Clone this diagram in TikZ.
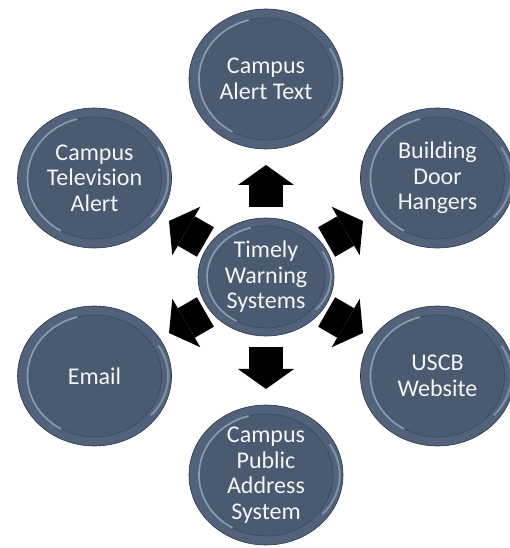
\documentclass[tikz,border=0pt]{standalone}
\usepackage{fontspec}
\setmainfont{Carlito}
\usepackage{tikz}
\usetikzlibrary{shapes.geometric, arrows.meta}
\usepackage{xcolor}
\definecolor{slate}{HTML}{4A5A71}
\definecolor{slaterim}{HTML}{52627A}
\definecolor{slatelite}{HTML}{A9B6C8}

\begin{document}
\begin{tikzpicture}[
    x=1pt, y=1pt,
    bubble/.style={ellipse, fill=slaterim, draw=slate!60!black, line width=0.6pt,
        minimum width=154pt, minimum height=140pt, inner sep=0pt, align=center,
        text=white!94!slate, font=\fontsize{24}{25.5}\selectfont,
        path picture={
            \draw[fill=slate, draw=slate!80!black, line width=0.6pt]
                (path picture bounding box.center) ellipse (#1);
            \draw[slatelite, line width=1.6pt, opacity=0.75]
                (path picture bounding box.center) ++(105:#1) arc (105:240:#1);
            \draw[slatelite, line width=2pt, opacity=0.55]
                (path picture bounding box.center) ++(-40:1.1*#1) arc (-40:30:1.1*#1);
        }},
    bubble/.default={67pt and 61pt},
    hub/.style={bubble={59pt and 51pt}, minimum width=136pt, minimum height=118pt},
    fat/.style={line width=34pt, -{Triangle[width=56pt, length=20pt, line width=0pt]},
        shorten <=70pt, shorten >=86pt}
]
\useasboundingbox (-266,-271) rectangle (243,277);

% 中心
\node[hub] (ctr) at (0,0) {Timely\\Warning\\Systems};

% 六个方式
\node[bubble] (alert) at (90:198) {Campus\\Alert Text};
\node[bubble] (door) at (30:198) {Building\\Door\\Hangers};
\node[bubble] (web) at (-30:198) {USCB\\Website};
\node[bubble] (pa) at (-90:198) {Campus\\Public\\Address\\System};
\node[bubble] (mail) at (-150:198) {Email};
\node[bubble] (tv) at (150:198) {Campus\\Television\\Alert};

% 箭头
\foreach \n in {alert,door,web,pa,mail,tv}
    \draw[fat] (ctr.center) -- (\n.center);

\end{tikzpicture}
\end{document}
